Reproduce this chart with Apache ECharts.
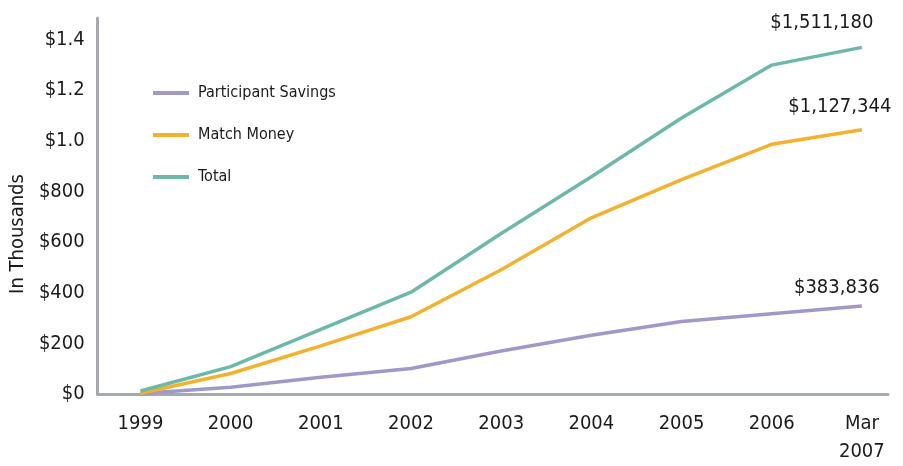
<!DOCTYPE html>
<html>
<head>
<meta charset="utf-8">
<script src="https://cdn.jsdelivr.net/npm/echarts@6/dist/echarts.min.js"></script>
<style>
html,body{margin:0;padding:0;background:#fff;}
#chart{width:903px;height:466px;}
</style>
</head>
<body>
<div id="chart"></div>
<script>
const categories = ['1999','2000','2001','2002','2003','2004','2005','2006','Mar\n2007'];
const participantSavings = [2, 27, 66, 101, 170, 232, 286, 317, 348];
const matchMoney = [3, 81, 190, 305, 491, 696, 847, 986, 1044];
const total = [12, 108, 255, 402, 634, 858, 1090, 1299, 1369];
const endLabels = ['$383,836', '$1,127,344', '$1,511,180'];
const yTickValues = [0, 200, 400, 600, 800, 1000, 1200, 1400];
const yTickLabels = ['$0', '$200', '$400', '$600', '$800', '$1.0', '$1.2', '$1.4'];
const seriesNames = ['Participant Savings', 'Match Money', 'Total'];
const colors = ['#9e99c8', '#f2b22c', '#6cb8a9'];

const FONT = "'DejaVu Sans Condensed', 'Liberation Sans Narrow', 'Roboto', sans-serif";

function toPairs(arr) { return arr.map((v, i) => [i, v]); }

const labelOffsets = [[-25, -3], [-22, -8], [-40, -10]];

function makeSeries(idx, arr) {
  const last = arr.length - 1;
  const data = toPairs(arr).map((p, i) => {
    if (i === last) {
      return {
        value: p,
        label: {
          show: true,
          position: 'top',
          formatter: endLabels[idx],
          offset: labelOffsets[idx],
          fontFamily: FONT,
          fontSize: 20,
          color: '#1a1a1a'
        }
      };
    }
    return { value: p };
  });
  return {
    name: seriesNames[idx],
    type: 'line',
    data: data,
    showSymbol: true,
    symbol: 'circle',
    symbolSize: 0,
    lineStyle: { width: 3.5, color: colors[idx] },
    itemStyle: { color: colors[idx] },
    emphasis: { disabled: true },
    z: 3 + idx
  };
}

const chart = echarts.init(document.getElementById('chart'), null, { renderer: 'canvas' });
chart.setOption({
  animation: false,
  backgroundColor: '#ffffff',
  grid: { left: 95, right: 15, top: 18, bottom: 64, containLabel: false },
  legend: {
    orient: 'vertical',
    left: 148,
    top: 80,
    itemGap: 26,
    itemWidth: 36,
    itemHeight: 4,
    icon: 'rect',
    data: seriesNames,
    textStyle: { fontFamily: FONT, fontSize: 16, color: '#1a1a1a', padding: [0, 0, 0, 4] },
    selectedMode: false
  },
  xAxis: {
    type: 'value',
    min: -0.475,
    max: 8.29,
    axisLine: { show: true, onZero: false, lineStyle: { color: '#a4a9ad', width: 3 } },
    axisTick: { show: false },
    splitLine: { show: false },
    axisLabel: {
      customValues: categories.map((c, i) => i),
      formatter: (v) => categories[Math.round(v)],
      fontFamily: FONT,
      fontSize: 20,
      color: '#1a1a1a',
      margin: 16,
      lineHeight: 28,
      showMinLabel: true,
      showMaxLabel: true
    }
  },
  yAxis: {
    type: 'value',
    min: 0,
    max: 1485,
    name: 'In Thousands',
    nameLocation: 'middle',
    nameGap: 68,
    nameRotate: 90,
    nameTextStyle: { fontFamily: FONT, fontSize: 20, color: '#1a1a1a', padding: [0, 0, 0, -56] },
    axisLine: { show: true, onZero: false, lineStyle: { color: '#a4a9ad', width: 3 } },
    axisTick: { show: false },
    splitLine: { show: false },
    axisLabel: {
      customValues: yTickValues,
      formatter: (v) => yTickLabels[yTickValues.indexOf(v)],
      fontFamily: FONT,
      fontSize: 20,
      color: '#1a1a1a',
      margin: 13
    }
  },
  series: [
    makeSeries(0, participantSavings),
    makeSeries(1, matchMoney),
    makeSeries(2, total)
  ]
});
</script>
</body>
</html>
